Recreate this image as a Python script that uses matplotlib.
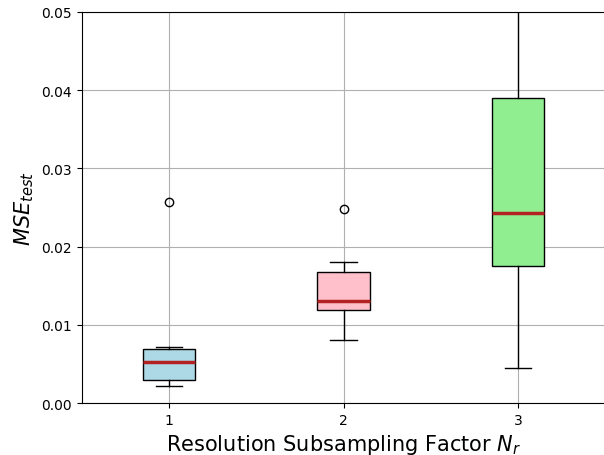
import matplotlib
matplotlib.use("Agg")
import matplotlib.pyplot as plt

labels = ["1", "2", "3"]
q1 = [0.0030, 0.0119, 0.0175]
med = [0.0052, 0.0130, 0.0243]
q3 = [0.0069, 0.0168, 0.0390]
whislo = [0.0022, 0.0081, 0.0045]
whishi = [0.0072, 0.0180, 0.0620]
fliers = [[0.0257], [0.0248], []]
colors = ["lightblue", "pink", "lightgreen"]

stats = []
for i in range(3):
    stats.append(dict(label=labels[i], q1=q1[i], med=med[i], q3=q3[i],
                      whislo=whislo[i], whishi=whishi[i], fliers=fliers[i]))

fig = plt.figure(figsize=(6.04, 4.56), dpi=100)
ax = fig.add_axes([0.1353, 0.114, 0.867, 0.8575])
bp = ax.bxp(stats, positions=[1, 2, 3], widths=0.3, patch_artist=True,
            medianprops=dict(color="#b22222", linewidth=2.5))
for patch, c in zip(bp["boxes"], colors):
    patch.set_facecolor(c)
    patch.set_edgecolor("black")
ax.set_xlim(0.5, 3.5)
ax.set_ylim(0, 0.05)
ax.set_yticks([0, 0.01, 0.02, 0.03, 0.04, 0.05])
ax.grid(True)
ax.spines["right"].set_visible(False)
ax.set_ylabel(r"$MSE_{test}$", fontsize=15)
ax.set_xlabel(r"Resolution Subsampling Factor $N_r$", fontsize=15)
fig.savefig("out.png", dpi=100)
